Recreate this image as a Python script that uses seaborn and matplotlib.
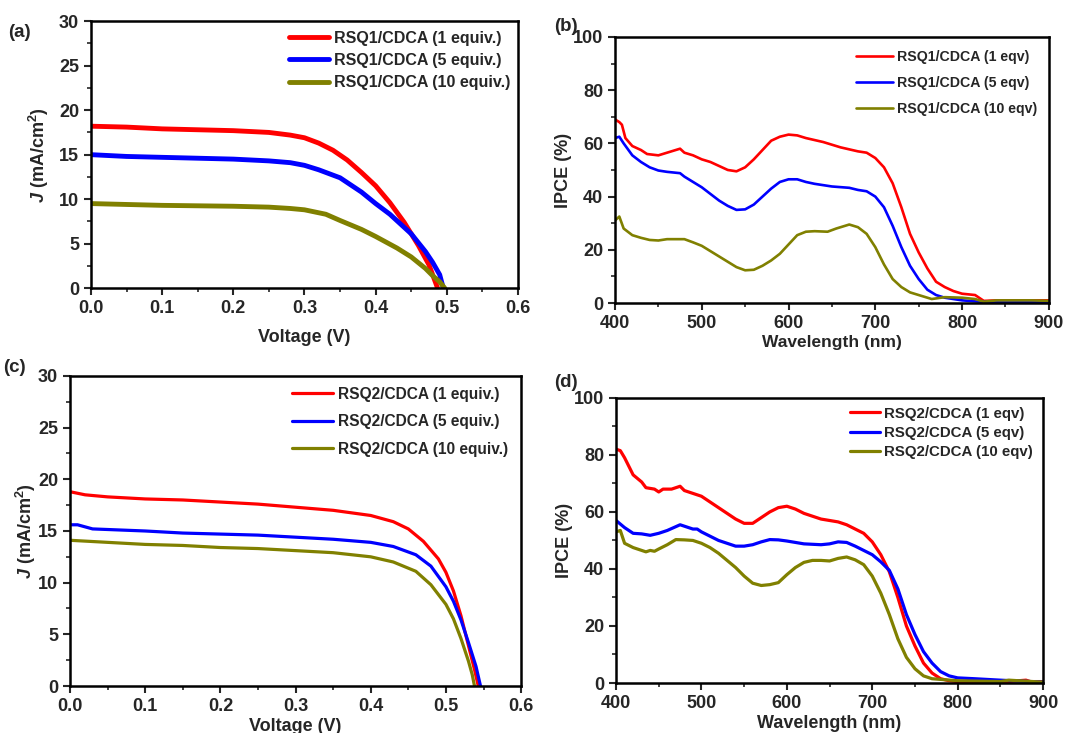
import numpy as np
import pandas as pd
import matplotlib
matplotlib.use("Agg")
import matplotlib.pyplot as plt
from matplotlib.ticker import AutoMinorLocator
import seaborn as sns

# -------------------------------
# J-V data, RSQ1 (panel a)
v1_red = [0.0, 0.05, 0.1, 0.15, 0.2, 0.25, 0.28, 0.3, 0.32, 0.34, 0.36, 0.38, 0.40, 0.42, 0.44, 0.46, 0.475, 0.487]
j1_red = [18.2, 18.1, 17.9, 17.8, 17.7, 17.5, 17.2, 16.9, 16.3, 15.5, 14.4, 13.0, 11.5, 9.6, 7.4, 4.8, 2.6, 0.0]
v1_blue = [0.0, 0.05, 0.1, 0.15, 0.2, 0.25, 0.28, 0.3, 0.32, 0.35, 0.38, 0.40, 0.42, 0.45, 0.47, 0.48, 0.49, 0.495]
j1_blue = [15.0, 14.8, 14.7, 14.6, 14.5, 14.3, 14.1, 13.8, 13.3, 12.4, 10.8, 9.5, 8.3, 6.1, 4.1, 2.9, 1.5, 0.0]
v1_olive = [0.0, 0.05, 0.1, 0.15, 0.2, 0.25, 0.28, 0.3, 0.33, 0.35, 0.38, 0.40, 0.43, 0.45, 0.47, 0.48, 0.49, 0.497]
j1_olive = [9.5, 9.4, 9.3, 9.25, 9.2, 9.1, 8.95, 8.8, 8.3, 7.6, 6.6, 5.8, 4.5, 3.5, 2.2, 1.4, 0.7, 0.0]

# J-V data, RSQ2 (panel c)
v2_red = [0.0, 0.02, 0.05, 0.1, 0.15, 0.2, 0.25, 0.3, 0.35, 0.4, 0.43, 0.45, 0.47, 0.49, 0.5, 0.51, 0.52, 0.53, 0.538, 0.543]
j2_red = [18.8, 18.5, 18.3, 18.1, 18.0, 17.8, 17.6, 17.3, 17.0, 16.5, 15.9, 15.2, 14.0, 12.3, 11.0, 9.2, 6.8, 3.9, 1.6, 0.0]
v2_blue = [0.0, 0.01, 0.03, 0.1, 0.15, 0.2, 0.25, 0.3, 0.35, 0.4, 0.43, 0.46, 0.48, 0.5, 0.51, 0.52, 0.53, 0.54, 0.546]
j2_blue = [15.6, 15.6, 15.2, 15.0, 14.8, 14.7, 14.6, 14.4, 14.2, 13.9, 13.5, 12.7, 11.6, 9.6, 8.2, 6.4, 4.2, 1.9, 0.0]
v2_olive = [0.0, 0.05, 0.1, 0.15, 0.2, 0.25, 0.3, 0.35, 0.4, 0.43, 0.46, 0.48, 0.5, 0.51, 0.52, 0.53, 0.535, 0.538]
j2_olive = [14.1, 13.9, 13.7, 13.6, 13.4, 13.3, 13.1, 12.9, 12.5, 12.0, 11.1, 9.8, 7.9, 6.5, 4.6, 2.4, 1.1, 0.0]

# IPCE data, RSQ1 (panel b)
wl1_red = [400, 405, 408, 412, 420, 430, 437, 450, 460, 475, 480, 490, 500, 510, 520, 530, 540, 550, 560, 570,
           580, 590, 600, 610, 620, 640, 650, 660, 680, 690, 700, 710, 720, 730, 740, 750, 760, 770, 780, 790,
           800, 815, 825, 840, 860, 880, 900]
ipce1_red = [69, 68, 67, 62, 59, 57.5, 56, 55.5, 56.5, 58, 56.5, 55.5, 54, 53, 51.5, 50, 49.5, 51, 54, 57.5,
             61, 62.5, 63.3, 63, 62, 60.5, 59.5, 58.5, 57, 56.5, 54.5, 51, 45, 36, 26, 19, 13, 8, 6, 4.5,
             3.5, 3, 0.8, 1, 1, 1, 1]
wl1_blue = [400, 405, 410, 420, 430, 440, 450, 460, 475, 480, 490, 500, 510, 520, 530, 540, 550, 560, 570, 580,
            590, 600, 610, 620, 630, 650, 670, 680, 690, 700, 710, 720, 730, 740, 750, 760, 770, 780, 790, 800,
            820, 850, 900]
ipce1_blue = [62, 62.5, 60, 55.5, 53, 51, 49.8, 49.3, 48.8, 47.5, 45.5, 43.5, 41, 38.5, 36.5, 35, 35.2, 37, 40, 43,
              45.5, 46.5, 46.5, 45.5, 44.8, 43.8, 43.3, 42.5, 42, 40, 36, 29, 21, 14, 9, 5, 3, 2, 1.5, 1,
              0.5, 0.3, 0.2]
wl1_olive = [400, 405, 410, 420, 430, 440, 450, 460, 480, 490, 500, 510, 520, 530, 540, 550, 560, 570, 580, 590,
             600, 610, 620, 630, 645, 655, 670, 680, 690, 700, 710, 720, 730, 740, 760, 765, 780, 800, 815, 825,
             840, 860, 880, 900]
ipce1_olive = [31, 32.5, 28, 25.5, 24.5, 23.7, 23.5, 24, 24, 22.8, 21.5, 19.5, 17.5, 15.5, 13.5, 12.3, 12.5, 14, 16, 18.5,
               22, 25.5, 26.8, 27, 26.8, 28, 29.5, 28.5, 26, 21, 14.5, 9, 6, 4, 2, 1.5, 2.2, 2, 1.5, 0.5,
               1, 1, 1, 0.8]

# IPCE data, RSQ2 (panel d)
wl2_red = [400, 405, 410, 415, 420, 430, 435, 445, 450, 455, 465, 475, 480, 490, 500, 510, 520, 530, 540, 550,
           560, 570, 580, 590, 600, 610, 620, 630, 640, 660, 670, 680, 690, 700, 710, 720, 730, 740, 750, 760,
           770, 780, 790, 800, 850, 880, 885, 900]
ipce2_red = [82, 81.5, 79, 76, 73, 70.5, 68.5, 68, 67, 68, 68, 69, 67.5, 66.5, 65.5, 63.5, 61.5, 59.5, 57.5, 56,
             56, 58, 60, 61.5, 62, 61, 59.5, 58.5, 57.5, 56.5, 55.5, 54, 52.5, 49.5, 45, 39, 30, 20, 13, 7,
             3.5, 1.5, 0.8, 0.5, 0.3, 1, 0.5, 0.5]
wl2_blue = [400, 410, 420, 430, 440, 450, 460, 475, 480, 490, 495, 500, 510, 520, 530, 540, 550, 560, 570, 580,
            590, 600, 610, 620, 640, 650, 660, 670, 680, 690, 700, 710, 720, 730, 740, 750, 760, 770, 780, 790,
            800, 820, 850, 900]
ipce2_blue = [57, 54.5, 52.5, 52.3, 51.8, 52.5, 53.5, 55.5, 55, 54, 54, 53, 51.5, 50, 49, 48, 48, 48.5, 49.5, 50.3,
              50.2, 49.8, 49.3, 48.8, 48.5, 48.8, 49.5, 49.3, 48, 46.5, 45, 42.5, 39.5, 33, 24, 17, 11, 7, 4, 2.5,
              1.8, 1.5, 1, 0.3]
wl2_olive = [400, 405, 410, 420, 430, 435, 440, 445, 450, 460, 470, 480, 490, 500, 510, 520, 530, 540, 550, 560,
             570, 580, 590, 600, 610, 620, 630, 640, 650, 660, 670, 680, 690, 700, 710, 720, 730, 740, 750, 760,
             770, 800, 850, 860, 900]
ipce2_olive = [53, 53.5, 49, 47.5, 46.5, 46, 46.5, 46.2, 47, 48.5, 50.3, 50.2, 50, 49, 47.5, 45.5, 43, 40.5, 37.5, 35,
               34.2, 34.5, 35.2, 38, 40.5, 42.3, 43, 43, 42.8, 43.7, 44.2, 43.2, 41.5, 37.5, 31.5, 24, 15.5, 9, 5, 2.5,
               1.5, 0.8, 0.5, 1, 0.3]

labels_a = ['RSQ1/CDCA (1 equiv.)', 'RSQ1/CDCA (5 equiv.)', 'RSQ1/CDCA (10 equiv.)']
labels_b = ['RSQ1/CDCA (1 eqv)', 'RSQ1/CDCA (5 eqv)', 'RSQ1/CDCA (10 eqv)']
labels_c = ['RSQ2/CDCA (1 equiv.)', 'RSQ2/CDCA (5 equiv.)', 'RSQ2/CDCA (10 equiv.)']
labels_d = ['RSQ2/CDCA (1 eqv)', 'RSQ2/CDCA (5 eqv)', 'RSQ2/CDCA (10 eqv)']

colors = ['#ff0000', '#0000ff', '#808000']

# -------------------------------
sns.set_style('ticks')
plt.rcParams['font.family'] = ['Liberation Sans', 'DejaVu Sans']
plt.rcParams['font.weight'] = 'bold'
plt.rcParams['axes.labelweight'] = 'bold'
plt.rcParams['mathtext.fontset'] = 'custom'
plt.rcParams['mathtext.rm'] = 'Liberation Sans:bold'
plt.rcParams['mathtext.bf'] = 'Liberation Sans:bold'
plt.rcParams['mathtext.it'] = 'Liberation Sans:italic:bold'

fig = plt.figure(figsize=(10.74, 7.33), dpi=100)
ax_a = fig.add_axes([0.0847, 0.607, 0.3976, 0.364])
ax_b = fig.add_axes([0.5726, 0.5866, 0.404, 0.363])
ax_c = fig.add_axes([0.0652, 0.0641, 0.42, 0.423])
ax_d = fig.add_axes([0.5736, 0.0682, 0.3976, 0.389])


def draw(ax, xs, ys, labels, lw):
    for x, y, lab, col in zip(xs, ys, labels, colors):
        sns.lineplot(x=x, y=y, ax=ax, color=col, linewidth=lw, label=lab, sort=False)


draw(ax_a, [v1_red, v1_blue, v1_olive], [j1_red, j1_blue, j1_olive], labels_a, 3.5)
draw(ax_b, [wl1_red, wl1_blue, wl1_olive], [ipce1_red, ipce1_blue, ipce1_olive], labels_b, 1.9)
draw(ax_c, [v2_red, v2_blue, v2_olive], [j2_red, j2_blue, j2_olive], labels_c, 2.3)
draw(ax_d, [wl2_red, wl2_blue, wl2_olive], [ipce2_red, ipce2_blue, ipce2_olive], labels_d, 2.3)

for ax in [ax_a, ax_c]:
    ax.set_xlim(0, 0.6)
    ax.set_ylim(0, 30)
    ax.set_xticks(np.arange(0, 0.61, 0.1))
    ax.set_yticks(np.arange(0, 31, 5))
    ax.set_xticklabels(['0.0', '0.1', '0.2', '0.3', '0.4', '0.5', '0.6'])
ax_a.set_ylabel(r'$\it{J}$ (mA/cm$^{2}$)', fontsize=13, labelpad=6)
ax_c.set_ylabel(r'$\it{J}$ (mA/cm$^{2}$)', fontsize=13, labelpad=0)
ax_a.set_xlabel('Voltage (V)', fontsize=13, labelpad=9)
ax_c.set_xlabel('Voltage (V)', fontsize=13, labelpad=2)

for ax in [ax_b, ax_d]:
    ax.set_xlim(400, 900)
    ax.set_ylim(0, 100)
    ax.set_xticks(np.arange(400, 901, 100))
    ax.set_yticks(np.arange(0, 101, 20))
    ax.set_ylabel('IPCE (%)', fontsize=13, labelpad=1)
ax_b.set_xlabel('Wavelength (nm)', fontsize=12.5, labelpad=2)
ax_d.set_xlabel('Wavelength (nm)', fontsize=13, labelpad=2)

for ax in [ax_a, ax_b, ax_c, ax_d]:
    ax.xaxis.set_minor_locator(AutoMinorLocator(2))
    ax.yaxis.set_minor_locator(AutoMinorLocator(2))
    ax.tick_params(which='major', direction='out', length=5, width=1.5, labelsize=13)
    ax.tick_params(which='minor', direction='out', length=3, width=1.2)
    for lab in ax.get_xticklabels() + ax.get_yticklabels():
        lab.set_fontweight('bold')
    for sp in ax.spines.values():
        sp.set_visible(True)
        sp.set_linewidth(1.8)
        sp.set_color('black')

leg_kw = dict(frameon=False, handletextpad=0.3, loc='upper right', borderaxespad=0)
ax_a.legend(handlelength=2.5, labelspacing=0.45, bbox_to_anchor=(0.996, 0.988),
            prop={'weight': 'bold', 'size': 11.5}, **leg_kw)
ax_b.legend(handlelength=2.6, labelspacing=0.85, bbox_to_anchor=(0.986, 0.974),
            prop={'weight': 'bold', 'size': 10.2}, **leg_kw)
ax_c.legend(handlelength=2.6, labelspacing=0.8, bbox_to_anchor=(0.984, 0.985),
            prop={'weight': 'bold', 'size': 11.2}, **leg_kw)
ax_d.legend(handlelength=2.0, labelspacing=0.35, bbox_to_anchor=(0.99, 0.9905),
            prop={'weight': 'bold', 'size': 10.8}, **leg_kw)

fig.text(0.008, 0.955, '(a)', fontsize=13.5, fontweight='bold', va='center')
fig.text(0.516, 0.964, '(b)', fontsize=13.5, fontweight='bold', va='center')
fig.text(0.003, 0.499, '(c)', fontsize=13.5, fontweight='bold', va='center')
fig.text(0.516, 0.478, '(d)', fontsize=13.5, fontweight='bold', va='center')

fig.savefig('out.png', dpi=100)
